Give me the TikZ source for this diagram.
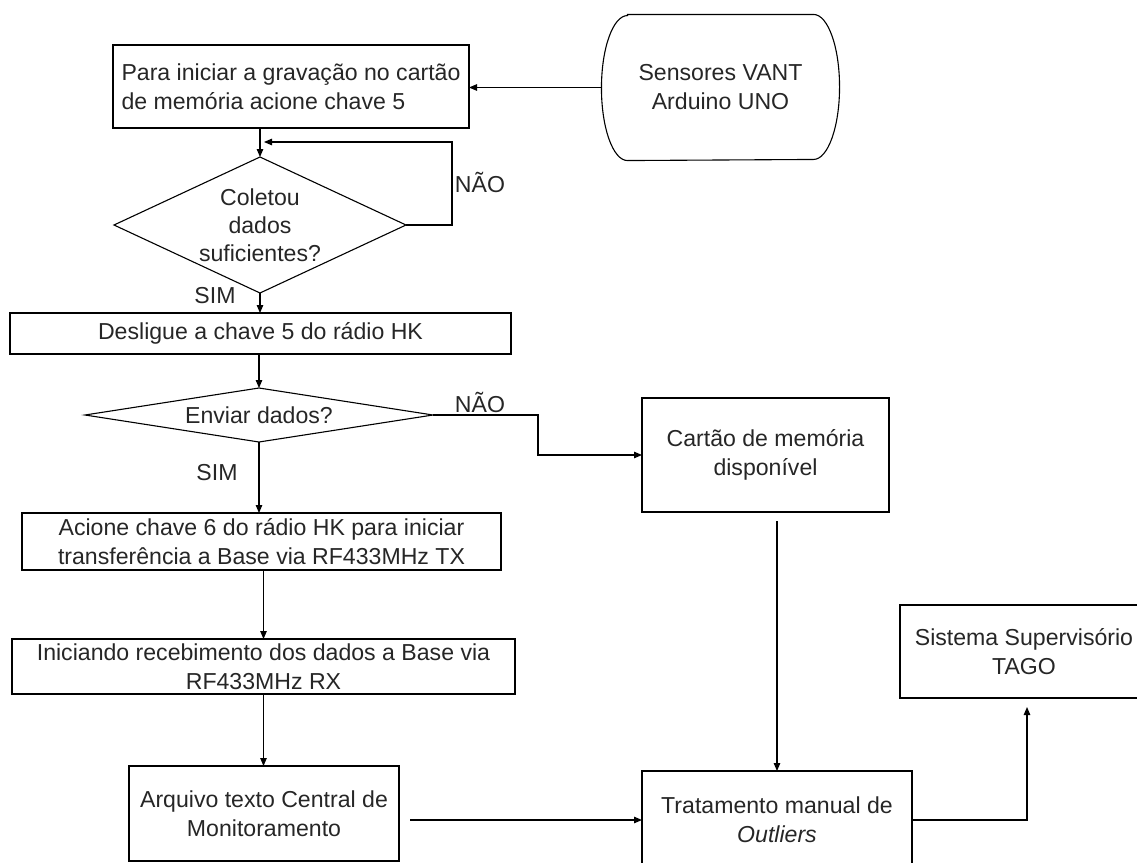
\documentclass[tikz,border=0pt]{standalone}
\usepackage{fontspec}
\setmainfont{Liberation Sans}
\usetikzlibrary{arrows.meta,calc,shapes.geometric}
\begin{document}
\begin{tikzpicture}[x=1pt,y=-1pt,
  every node/.style={font=\fontsize{23.1}{29}\selectfont, text=black!85},
  box/.style={draw, rectangle, inner sep=0pt, outer sep=0pt, align=center},
  dia/.style={draw, diamond, inner sep=0pt, outer sep=0pt},
  txt/.style={inner sep=0pt, align=center},
  lbl/.style={inner sep=0pt, anchor=base},
  conn/.style={-{Triangle[length=8pt,width=6.5pt]}},
  line width=1.1pt]
\useasboundingbox (0,0) rectangle (1137,862);
\clip (0,0) rectangle (1137,862);

% nodes
\node[box, align=left, minimum width=356pt, minimum height=83pt] (start) at (291,86.5)
  {Para iniciar a gravação no cartão\\de memória acione chave 5};
\node[txt, minimum width=237pt, minimum height=145pt] (sens) at (720.5,87.5)
  {Sensores VANT\\Arduino UNO};
\draw ([xshift=26pt]sens.north west) -- ([xshift=-26pt]sens.north east)
  arc[start angle=90,end angle=0,x radius=26pt,y radius=72.5pt]
  arc[start angle=0,end angle=-90,x radius=26pt,y radius=72.5pt]
  -- ([xshift=26pt]sens.south west)
  arc[start angle=270,end angle=180,x radius=26pt,y radius=72.5pt]
  arc[start angle=180,end angle=90,x radius=26pt,y radius=72.5pt] -- cycle;

\node[dia, minimum width=292pt, minimum height=136pt] (d1) at (260,225) {};
\node[txt, font=\fontsize{23.1}{28}\selectfont] (d1t) at (d1.center) {Coletou\\dados\\suficientes?};

\node[box, minimum width=501pt, minimum height=41pt] (desl) at (260.5,333.5)
  {Desligue a chave 5 do rádio HK};

\node[dia, minimum width=348pt, minimum height=54pt] (d2) at (259,415) {};
\node[txt] (d2t) at (d2.center) {Enviar dados?};

\node[box, minimum width=479pt, minimum height=57pt] (acio) at (261.5,541.5)
  {Acione chave 6 do rádio HK para iniciar\\transferência a Base via RF433MHz TX};
\node[box, minimum width=503pt, minimum height=55pt] (inic) at (263.5,666.5)
  {Iniciando recebimento dos dados a Base via\\RF433MHz RX};
\node[box, minimum width=270pt, minimum height=95pt] (arq) at (264,813.5)
  {Arquivo texto Central de\\Monitoramento};
\node[box, minimum width=247pt, minimum height=114pt] (cart) at (765.5,455)
  {Cartão de memória\\disponível};
\node[box, minimum width=270pt, minimum height=98pt] (trat) at (777,820)
  {Tratamento manual de\\\textit{Outliers}};
\node[box, minimum width=248pt, minimum height=93pt] (tago) at (1024,651.5)
  {Sistema Supervisório\\TAGO};

% labels
\node[lbl] (nao1) at (480,192) {NÃO};
\node[lbl] (sim1) at (215,303) {SIM};
\node[lbl] (nao2) at (480,412) {NÃO};
\node[lbl] (sim2) at (217,480) {SIM};

% connectors
\draw[conn] (sens.west) -- (start.east |- sens.west);
\draw[conn] (start.south -| d1.north) -- (d1.north);
\coordinate (loopend) at (264,142);
\draw[conn] (d1.east) -- ++(46,0) |- (loopend);
\draw[conn] (d1.south) -- (d1.south |- desl.north);
\draw[conn] (desl.south -| d2.north) -- (d2.north);
\draw[conn] (d2.east) -- ++(105,0) |- (cart.west);
\draw[conn] (d2.south) -- (d2.south |- acio.north);
\draw[conn] (acio.south -| inic.north) -- (inic.north);
\draw[conn] (inic.south) -- (inic.south |- arq.north);
\coordinate (arqr) at ($(arq.east)+(11,0)$);
\draw[conn] (arqr |- trat.west) -- (trat.west);
\coordinate (cartb) at ($(cart.south -| trat.north)+(0,9)$);
\draw[conn] (cartb) -- (trat.north);
\coordinate (tagob) at ($(tago.south)+(3,9)$);
\draw[conn] (trat.east) -| (tagob);
\end{tikzpicture}
\end{document}
